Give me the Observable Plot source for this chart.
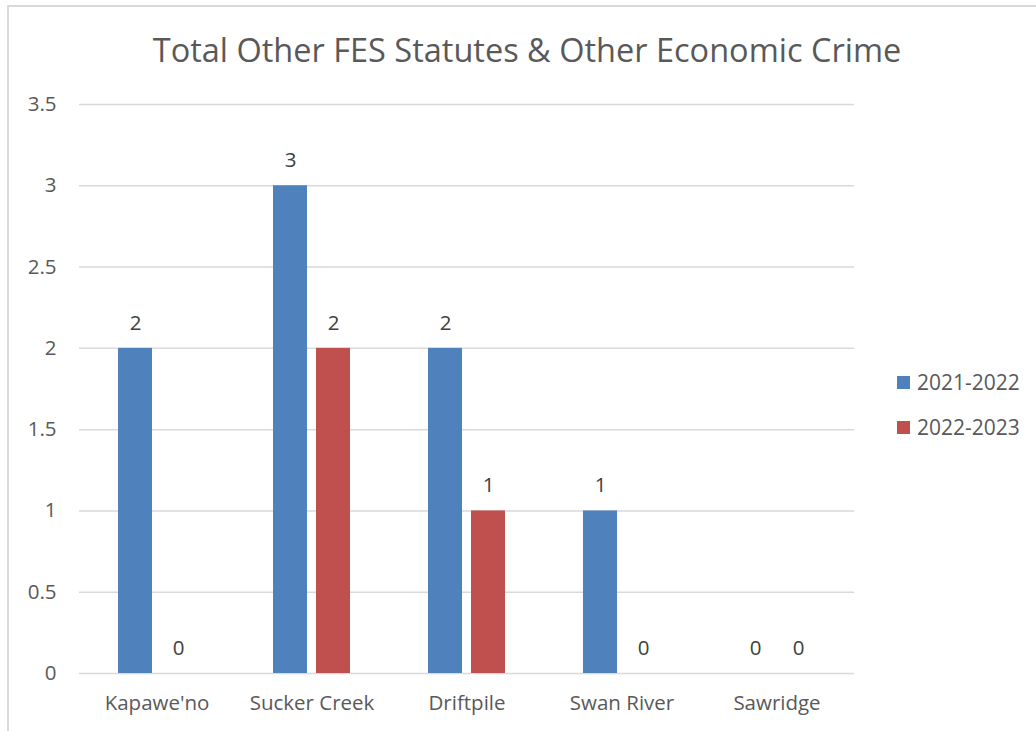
<!DOCTYPE html>
<html><head><meta charset="utf-8">
<script src="https://cdn.jsdelivr.net/npm/d3@7"></script>
<script src="https://cdn.jsdelivr.net/npm/@observablehq/plot@0.6"></script>
<style>
body{margin:0;background:#fff;font-family:"Open Sans",sans-serif;}
#wrap{position:relative;width:1036px;height:731px;overflow:hidden;background:#fff;}
#frame{position:absolute;left:7px;top:5px;width:1060px;height:760px;border:2px solid #d9d9d9;box-sizing:border-box;}
#title{position:absolute;left:127px;width:800px;top:27px;text-align:center;font-size:32.5px;color:#595959;line-height:46px;white-space:nowrap;}
#chart{position:absolute;left:0;top:0;}
.leg{position:absolute;left:897px;font-size:21px;color:#595959;line-height:26px;display:flex;align-items:center;white-space:nowrap;}
.sw{width:13px;height:13px;margin-right:7px;}
</style></head>
<body>
<div id="wrap">
<div id="frame"></div>
<div id="chart"></div>
<div id="title">Total Other FES Statutes &amp; Other Economic Crime</div>
<div id="legend"></div>
</div>
<script>
const categories = ["Kapawe'no","Sucker Creek","Driftpile","Swan River","Sawridge"];
const series = ["2021-2022","2022-2023"];
const values2021 = [2,3,2,1,0];
const values2022 = [0,2,1,0,0];
const colors = ["#4F81BD","#C0504D"];
const yTicks = [0,0.5,1,1.5,2,2.5,3,3.5];

const data = [];
categories.forEach((c,i)=>{
  data.push({cat:c, series:series[0], value:values2021[i]});
  data.push({cat:c, series:series[1], value:values2022[i]});
});

const chart = Plot.plot({
  width:1036, height:731,
  marginLeft:78, marginRight:181, marginTop:104, marginBottom:58,
  style:{fontFamily:"'Open Sans', sans-serif", fontSize:"20.5px", color:"#595959", background:"transparent", overflow:"visible"},
  fx:{domain:categories, paddingInner:0, paddingOuter:0, label:null, axis:"bottom", tickSize:0, tickPadding:22},
  x:{domain:series, paddingInner:0.2045, paddingOuter:0.868, axis:null},
  y:{domain:[0,3.5], ticks:yTicks, tickSize:0, tickPadding:23, label:null, tickFormat:d=>String(d)},
  color:{domain:series, range:colors},
  marks:[
    Plot.ruleY(yTicks,{stroke:"#d9d9d9", strokeWidth:1.5}),
    Plot.barY(data,{fx:"cat", x:"series", y:"value", fill:"series"}),
    Plot.text(data,{fx:"cat", x:"series", y:"value", text:d=>String(d.value), dy:-25, fill:"#404040", fontSize:20.5})
  ]
});
document.getElementById("chart").appendChild(chart);

const leg = document.getElementById("legend");
const legTops = [369, 414];
series.forEach((s,i)=>{
  const row = document.createElement("div");
  row.className = "leg";
  row.style.top = legTops[i] + "px";
  row.innerHTML = `<div class="sw" style="background:${colors[i]}"></div><span>${s}</span>`;
  leg.appendChild(row);
});
</script>
</body></html>
